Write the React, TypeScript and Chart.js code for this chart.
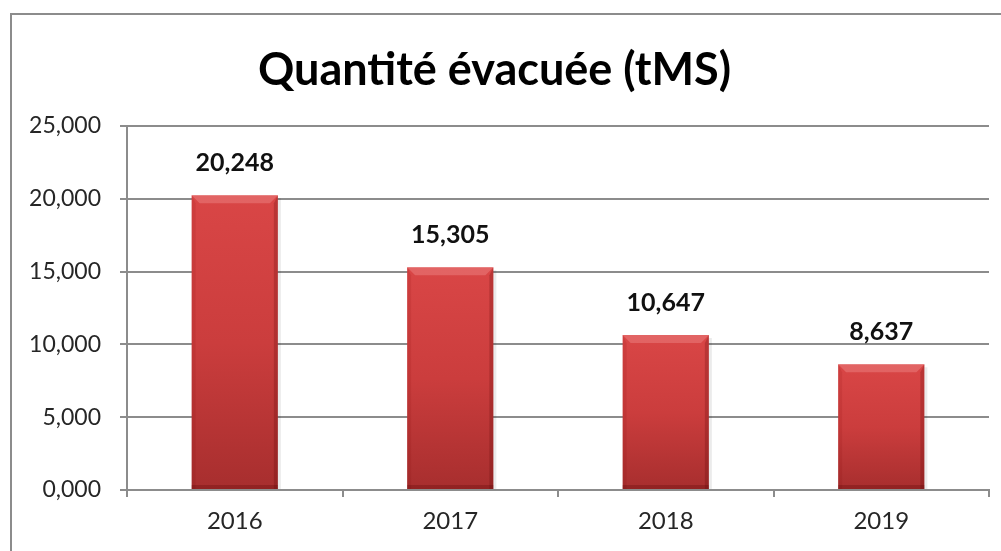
import React, { useEffect, useRef } from "react";
import { Chart, registerables } from "chart.js";

Chart.register(...registerables);

const categories = ["2016", "2017", "2018", "2019"];
const values = [20248, 15305, 10647, 8637];
const valueLabels = ["20,248", "15,305", "10,647", "8,637"];
const yTickLabels = ["0,000", "5,000", "10,000", "15,000", "20,000", "25,000"];
const titleText = "Quantité évacuée (tMS)";

const FONT = "Lato, 'Open Sans', sans-serif";

const framePlugin = {
  id: "frame",
  beforeDraw(chart: any) {
    const ctx = chart.ctx;
    ctx.save();
    ctx.fillStyle = "#ffffff";
    ctx.fillRect(0, 0, chart.width, chart.height);
    ctx.strokeStyle = "#8c8c8c";
    ctx.lineWidth = 2;
    ctx.strokeRect(11, 14, chart.width + 20, chart.height + 20);
    ctx.restore();
  },
};

const bevelPlugin = {
  id: "bevel",
  afterDatasetsDraw(chart: any) {
    const ctx = chart.ctx;
    const meta = chart.getDatasetMeta(0);
    ctx.save();
    meta.data.forEach((bar: any) => {
      const { x, y, base, width } = bar.getProps(["x", "y", "base", "width"], true);
      const l = x - width / 2;
      const r = x + width / 2;
      const b = 8;
      ctx.fillStyle = "rgba(255,190,190,0.25)";
      ctx.beginPath();
      ctx.moveTo(l, y);
      ctx.lineTo(r, y);
      ctx.lineTo(r - b, y + b);
      ctx.lineTo(l + b, y + b);
      ctx.closePath();
      ctx.fill();
      ctx.fillStyle = "rgba(120,0,0,0.10)";
      ctx.beginPath();
      ctx.moveTo(l, y);
      ctx.lineTo(l + b / 2, y + b);
      ctx.lineTo(l + b / 2, base);
      ctx.lineTo(l, base);
      ctx.closePath();
      ctx.fill();
      ctx.fillStyle = "rgba(80,0,0,0.22)";
      ctx.beginPath();
      ctx.moveTo(r, y);
      ctx.lineTo(r - b / 2, y + b);
      ctx.lineTo(r - b / 2, base);
      ctx.lineTo(r, base);
      ctx.closePath();
      ctx.fill();
      ctx.fillStyle = "rgba(80,0,0,0.25)";
      ctx.fillRect(l, base - 4, width, 4);
      ctx.fillStyle = "rgba(0,0,0,0.08)";
      ctx.fillRect(r, y + 3, 3, base - y - 3);
    });
    ctx.restore();
  },
};

const valueLabelPlugin = {
  id: "valueLabels",
  afterDatasetsDraw(chart: any) {
    const ctx = chart.ctx;
    const meta = chart.getDatasetMeta(0);
    ctx.save();
    ctx.font = `bold 25px ${FONT}`;
    ctx.fillStyle = "#111111";
    ctx.textAlign = "center";
    ctx.textBaseline = "middle";
    meta.data.forEach((bar: any, i: number) => {
      ctx.fillText(valueLabels[i], bar.x, bar.y - 32);
    });
    ctx.restore();
  },
};

export default function App() {
  const ref = useRef<HTMLCanvasElement | null>(null);

  useEffect(() => {
    document.body.style.margin = "0";
    document.body.style.overflow = "hidden";
    const canvas = ref.current!;
    const chart = new Chart(canvas, {
      type: "bar",
      data: {
        labels: categories,
        datasets: [
          {
            data: values,
            backgroundColor: (c: any) => {
              const ch = c.chart;
              const ys = ch.scales?.y;
              if (!ys || c.raw == null) return "#c83a3a";
              const top = ys.getPixelForValue(c.raw);
              const base = ys.getPixelForValue(0);
              if (!isFinite(top) || !isFinite(base) || base === top) return "#c83a3a";
              const g = ch.ctx.createLinearGradient(0, top, 0, base);
              g.addColorStop(0, "#d94646");
              g.addColorStop(0.5, "#cb3d3d");
              g.addColorStop(1, "#a72e2e");
              return g;
            },
            borderWidth: 0,
            categoryPercentage: 1,
            barPercentage: 0.4,
          },
        ],
      },
      options: {
        responsive: false,
        animation: false,
        devicePixelRatio: 1,
        layout: { padding: { left: 0, right: 12, top: 0, bottom: 0 } },
        plugins: {
          legend: { display: false },
          tooltip: { enabled: false },
          title: {
            display: true,
            text: titleText,
            color: "#000000",
            font: { family: FONT, size: 45, weight: "bold", lineHeight: 1.2 },
            padding: { top: 43, bottom: 29 },
          },
        },
        scales: {
          x: {
            offset: true,
            grid: {
              offset: true,
              drawOnChartArea: false,
              drawTicks: true,
              tickLength: 7,
              color: "#8c8c8c",
              lineWidth: 2,
            },
            border: { display: true, color: "#8c8c8c", width: 2 },
            ticks: {
              color: "#262626",
              font: { family: FONT, size: 24 },
              padding: 10,
            },
            afterFit: (s: any) => {
              s.height = 61;
            },
          },
          y: {
            min: 0,
            max: 25000,
            ticks: {
              stepSize: 5000,
              color: "#262626",
              font: { family: FONT, size: 23 },
              padding: 19,
              callback: (_v: any, i: number) => yTickLabels[i],
            },
            grid: {
              color: "#8c8c8c",
              lineWidth: 2,
              tickLength: 7,
              drawTicks: true,
            },
            border: { display: true, color: "#8c8c8c", width: 2 },
            afterFit: (s: any) => {
              s.width = 127;
            },
          },
        },
      },
      plugins: [framePlugin, bevelPlugin, valueLabelPlugin],
    });
    return () => chart.destroy();
  }, []);

  return (
    <div style={{ position: "fixed", left: 0, top: 0, width: 1001, height: 551 }}>
      <canvas ref={ref} width={1001} height={551} style={{ display: "block" }} />
    </div>
  );
}
